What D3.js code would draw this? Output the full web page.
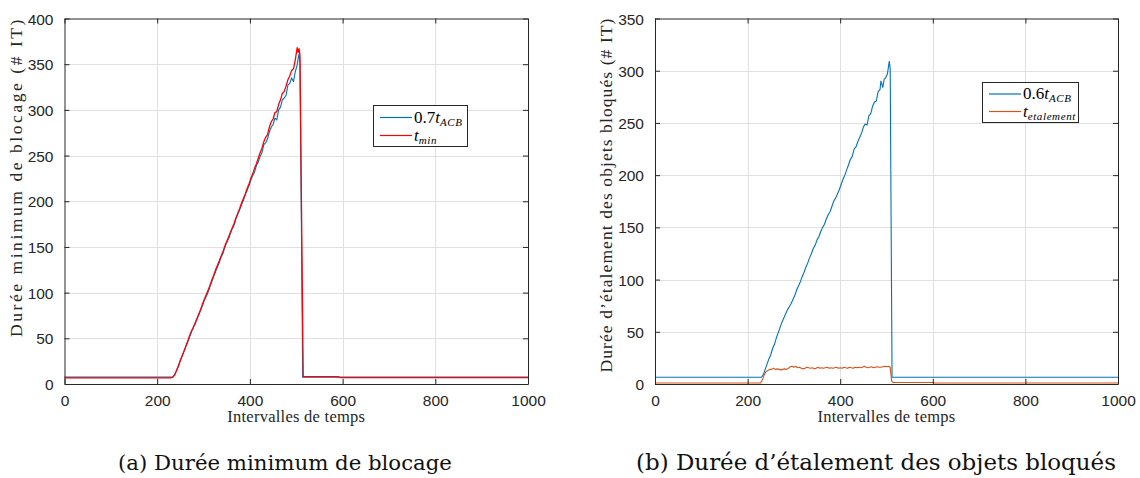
<!DOCTYPE html>
<html><head><meta charset="utf-8">
<script src="https://cdn.jsdelivr.net/npm/d3@7"></script>
<style>body{margin:0;background:#fff}svg{display:block}</style>
</head><body>
<svg id="c" width="1140" height="478"></svg>
<script>
// ---------- data ----------
const xTicks = [0, 200, 400, 600, 800, 1000];
const yTicksA = [0, 50, 100, 150, 200, 250, 300, 350, 400];
const yTicksB = [0, 50, 100, 150, 200, 250, 300, 350];

// (a) 0.7 t_ACB
const xA_blue = [0,230,234,238,242,246,250,254,258,262,266,270,274,278,282,286,290,294,298,302,306,310,314,318,322,326,330,334,338,342,346,350,354,358,362,366,370,374,378,382,386,390,394,398,402,406,410,414,418,422,426,430,434,438,442,446,450,454,458,462,466,470,474,478,482,486,490,494,498,502,504,506,508,514,1000];
const yA_blue = [7.5,7.5,8,11,15,20,26,31,36,41,46,52,57,62,66,71,76,81,86,92,96,101,107,112,118,123,128,133,139,143,150,155,159,165,170,174,181,186,191,196,201,207,212,217,223,228,232,239,243,249,253,262,264,268,276,281,284,291,289,300,303,311,313,316,327,329,335,331,342,349,356,361,352,7.5,7.5];
// (a) t_min
const xA_red = [0,230,234,238,242,246,250,254,258,262,266,270,274,278,282,286,290,294,298,302,306,310,314,318,322,326,330,334,338,342,346,350,354,358,362,366,370,374,378,382,386,390,394,398,402,406,410,414,418,422,426,430,434,438,442,446,450,454,458,462,466,470,474,478,482,486,490,494,498,502,504,506,508,515,590,595,1000];
const yA_red = [6.8,6.8,7.5,10,15,20,26,31,36,42,47,53,58,62,67,72,77,82,88,93,98,103,108,114,119,125,130,135,140,145,151,156,161,166,171,176,182,187,192,198,203,208,214,219,225,230,236,241,247,253,258,265,270,273,281,287,290,297,298,306,311,318,320,326,333,337,343,345,355,368,363,367,360,8,8,7,7];

// (b) 0.6 t_ACB
const xB_blue = [0,230,234,238,242,246,250,254,258,262,266,270,274,278,282,286,290,294,298,302,306,310,314,318,322,326,330,334,338,342,346,350,354,358,362,366,370,374,378,382,386,390,394,398,402,406,410,414,418,422,426,430,434,438,442,446,450,454,458,462,466,470,474,478,482,486,488,492,495,498,502,504,506,508,512,1000];
const yB_blue = [6.5,6.5,9,14,19,24,28,34,38,44,49,54,59,63,67,71,74,77,81,85,90,94,98,103,107,112,116,121,125,130,133,138,141,146,150,153,158,162,165,170,175,178,182,186,191,196,200,205,210,215,218,225,227,232,236,240,246,249,248,257,259,266,270,271,280,282,290,284,292,293,297,303,309,302,6.5,6.5];
// (b) t_etalement
const xB_or = [0,228,232,236,240,244,248,252,256,260,264,268,272,276,280,284,288,292,296,300,304,308,312,316,320,324,328,332,336,340,344,348,352,356,360,364,368,372,376,380,384,388,392,396,400,404,408,412,416,420,424,428,432,436,440,444,448,452,456,460,464,468,472,476,480,484,488,492,496,500,504,508,511,514,600,604,1000];
const yB_or = [1,1,4,9,12,13,14,14,15,14,14.5,14,13.5,14,14.5,14,15,16.5,17,16,17,15.5,16,15,14.5,15,16,15.5,15,15.5,14.5,15,16,15,15.5,15,15.5,16,15,15.5,15,15.5,16,15,15.5,15,16,15.5,15,16,15.5,15,16,15.5,16,15.5,16,17,16,15.5,16,16.5,15.5,16,16.5,16,16,16.5,17,16.5,17,16,3,1.5,1.5,1,1];

const C_BLUE = "#0072BD", C_RED = "#FF0000", C_OR = "#D95319";

// ---------- drawing ----------
const svg = d3.select("#c");
const AX = "#262626", GRID = "#e0e0e0";

function spreadText(sel, target) {
  const w = sel.node().getComputedTextLength();
  const n = sel.text().length;
  sel.attr("letter-spacing", (target - w) / n);
}
function fitText(sel, target) {
  const w = sel.node().getComputedTextLength();
  const fs = parseFloat(sel.attr("font-size"));
  sel.attr("font-size", fs * target / w);
}

function panel(cfg) {
  const g = svg.append("g");
  const x = d3.scaleLinear().domain([0, 1000]).range([cfg.x0, cfg.x1]);
  const y = d3.scaleLinear().domain([0, cfg.ymax]).range([cfg.y1, cfg.y0]);
  g.selectAll(".gx").data(xTicks.slice(1, -1)).join("line")
    .attr("x1", d => Math.round(x(d)) + 0.5).attr("x2", d => Math.round(x(d)) + 0.5)
    .attr("y1", cfg.y0).attr("y2", cfg.y1).attr("stroke", GRID);
  g.selectAll(".gy").data(cfg.yTicks.slice(1, -1)).join("line")
    .attr("y1", d => Math.round(y(d)) + 0.5).attr("y2", d => Math.round(y(d)) + 0.5)
    .attr("x1", cfg.x0).attr("x2", cfg.x1).attr("stroke", GRID);
  const line = d3.line().x(d => x(d[0])).y(d => y(d[1]));
  cfg.series.forEach(s => {
    g.append("path").datum(d3.zip(s.x, s.y)).attr("d", line)
      .attr("fill", "none").attr("stroke", s.color).attr("stroke-width", s.w)
      .attr("stroke-linejoin", "round");
  });
  const bx = g.append("g").attr("transform", `translate(0,${cfg.y1})`)
    .call(d3.axisBottom(x).tickValues(xTicks).tickSizeInner(-5).tickSizeOuter(0).tickPadding(11).tickFormat(d3.format("d")));
  const tx = g.append("g").attr("transform", `translate(0,${cfg.y0})`)
    .call(d3.axisTop(x).tickValues(xTicks).tickSizeInner(-5).tickSizeOuter(0).tickFormat(""));
  const ly = g.append("g").attr("transform", `translate(${cfg.x0},0)`)
    .call(d3.axisLeft(y).tickValues(cfg.yTicks).tickSizeInner(-5).tickSizeOuter(0).tickPadding(11).tickFormat(d3.format("d")));
  const ry = g.append("g").attr("transform", `translate(${cfg.x1},0)`)
    .call(d3.axisRight(y).tickValues(cfg.yTicks).tickSizeInner(-5).tickSizeOuter(0).tickFormat(""));
  [bx, tx, ly, ry].forEach(a => {
    a.selectAll("path,line").attr("stroke", AX);
    a.selectAll("text").attr("fill", AX).attr("font-family", "'Liberation Sans', Arial, sans-serif").attr("font-size", 15.5);
  });
  ly.selectAll("text").attr("dy", "0.36em");
  bx.selectAll("text").attr("dy", "0.71em");
  const xl = g.append("text").attr("x", (cfg.x0 + cfg.x1) / 2).attr("y", 422)
    .attr("text-anchor", "middle").attr("font-family", "'Liberation Serif', serif")
    .attr("font-size", 16.5).attr("fill", AX).text("Intervalles de temps");
  spreadText(xl, 138);
  const yl = g.append("text").attr("transform", `translate(${cfg.ylx},${cfg.ylc}) rotate(-90)`)
    .attr("text-anchor", "middle").attr("font-family", "'Liberation Serif', serif")
    .attr("font-size", 17.5).attr("fill", AX).text(cfg.ylabel);
  spreadText(yl, cfg.ylw);
  const L = cfg.legend;
  g.append("rect").attr("x", L.x + 0.5).attr("y", L.y + 0.5).attr("width", L.w).attr("height", L.h)
    .attr("fill", "#fff").attr("stroke", AX);
  L.items.forEach((it, i) => {
    const yy = L.y + L.dy0 + i * L.step;
    g.append("line").attr("x1", L.x + 7).attr("x2", L.x + 39).attr("y1", yy).attr("y2", yy)
      .attr("stroke", it.color).attr("stroke-width", it.w);
    const t = g.append("text").attr("x", L.x + 41).attr("y", yy + 5)
      .attr("font-family", "'Liberation Serif', serif").attr("font-size", 17).attr("fill", "#000");
    if (it.pre) t.append("tspan").text(it.pre);
    t.append("tspan").attr("font-style", "italic").text("t");
    t.append("tspan").attr("font-style", "italic").attr("font-size", 11).attr("dy", 3).attr("letter-spacing", 0.6).text(it.sub);
  });
}

panel({
  x0: 64.5, x1: 528, y0: 18.5, y1: 384, ymax: 400, yTicks: yTicksA,
  ylabel: "Durée minimum de blocage (# IT)", ylx: 22, ylc: 177, ylw: 320,
  series: [{x: xA_blue, y: yA_blue, color: C_BLUE, w: 1.1}, {x: xA_red, y: yA_red, color: C_RED, w: 1.3}],
  legend: {x: 373, y: 105, w: 94, h: 41, dy0: 12.5, step: 18,
    items: [{pre: "0.7", sub: "ACB", color: C_BLUE, w: 1.2}, {pre: "", sub: "min", color: C_RED, w: 1.2}]}
});
panel({
  x0: 655, x1: 1118, y0: 18.5, y1: 384, ymax: 350, yTicks: yTicksB,
  ylabel: "Durée d’étalement des objets bloqués (# IT)", ylx: 612, ylc: 195, ylw: 355,
  series: [{x: xB_blue, y: yB_blue, color: C_BLUE, w: 1.1}, {x: xB_or, y: yB_or, color: C_OR, w: 1.1}],
  legend: {x: 982, y: 82, w: 96, h: 40, dy0: 12, step: 17.5,
    items: [{pre: "0.6", sub: "ACB", color: C_BLUE, w: 1.2}, {pre: "", sub: "etalement", color: C_OR, w: 1.2}]}
});

[["(a) Durée minimum de blocage", 285, 334], ["(b) Durée d’étalement des objets bloqués", 876, 480]].forEach(c => {
  const t = svg.append("text").attr("x", c[1]).attr("y", 470).attr("text-anchor", "middle")
    .attr("font-family", "'DejaVu Serif', serif").attr("font-size", 21).attr("fill", "#111").text(c[0]);
  fitText(t, c[2]);
});
</script>
</body></html>
